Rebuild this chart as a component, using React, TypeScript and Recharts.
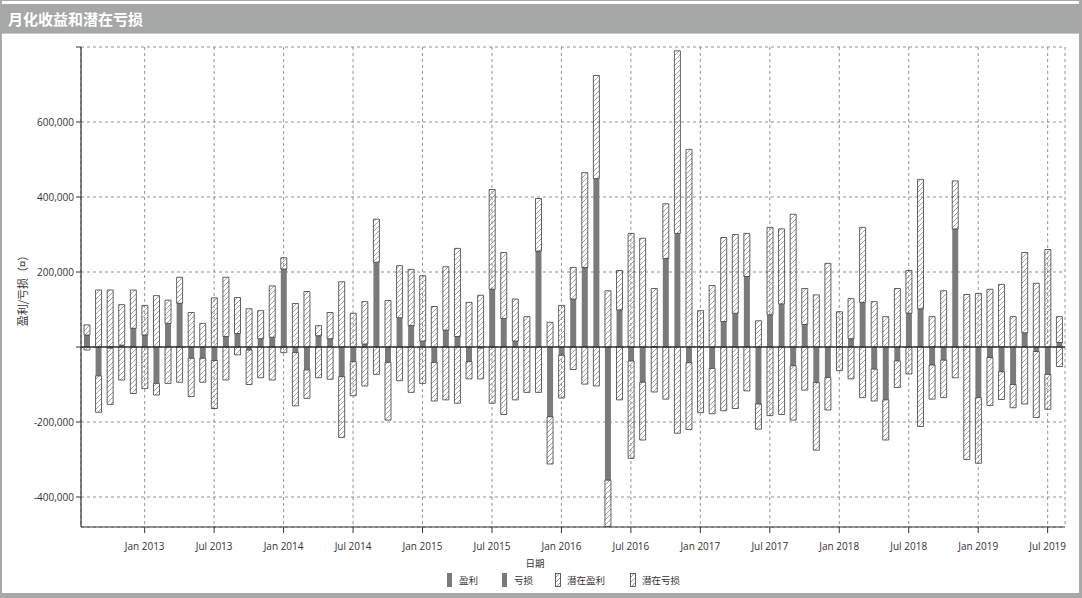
import React from "react";
import {
  BarChart,
  Bar,
  XAxis,
  YAxis,
  CartesianGrid,
  ReferenceLine,
} from "recharts";

const FONT = "'Open Sans', 'Noto Sans CJK SC', sans-serif";
const CJK = "'Noto Sans CJK SC', sans-serif";

// monthly buckets, Aug 2012 .. Aug 2019
const START_YEAR = 2012;
const START_MONTH = 7; // Aug (0-based)
const MONTH_NAMES = ["Jan", "Feb", "Mar", "Apr", "May", "Jun", "Jul", "Aug", "Sep", "Oct", "Nov", "Dec"];

// realized monthly P&L
const REALIZED = [
  32000, -77000, -3000, 5000, 50000, 32000, -97000, 63000, 117000, -30000,
  -30000, -36000, 28000, 36000, -8000, 22000, 26000, 208000, -15000, -61000,
  30000, 22000, -79000, -39000, 8000, 226000, -41000, 78000, 57000, 16000,
  -41000, 45000, 28000, -39000, -3000, 154000, 76000, 16000, 1000, 256000,
  -186000, -22000, 128000, 212000, 449000, -355000, 99000, -37000, -94000, 1000,
  236000, 303000, -42000, 1000, -57000, 68000, 90000, 188000, -152000, 86000,
  115000, -50000, 60000, -95000, -81000, 1000, 22000, 119000, -59000, -141000,
  -37000, 90000, 102000, -48000, -35000, 315000, 2000, -135000, -28000, -66000,
  -100000, 38000, -12000, -73000, 12000,
];

// best point reached during the month
const POTENTIAL_HIGH = [
  59000, 152000, 152000, 113000, 152000, 111000, 137000, 125000, 186000, 92000,
  63000, 131000, 186000, 132000, 102000, 97000, 163000, 238000, 116000, 148000,
  57000, 92000, 174000, 90000, 121000, 341000, 124000, 217000, 207000, 190000,
  108000, 214000, 263000, 119000, 138000, 420000, 252000, 128000, 81000, 396000,
  66000, 111000, 212000, 465000, 724000, 150000, 204000, 303000, 290000, 156000,
  382000, 790000, 527000, 97000, 164000, 292000, 300000, 303000, 70000, 319000,
  315000, 354000, 156000, 139000, 223000, 94000, 129000, 319000, 121000, 81000,
  156000, 204000, 447000, 81000, 150000, 443000, 140000, 143000, 154000, 167000,
  81000, 252000, 170000, 260000, 81000,
];

// worst point reached during the month
const POTENTIAL_LOW = [
  -8000, -174000, -153000, -88000, -124000, -111000, -128000, -97000, -94000, -132000,
  -94000, -164000, -88000, -21000, -100000, -82000, -88000, -15000, -157000, -137000,
  -82000, -86000, -241000, -130000, -104000, -73000, -195000, -90000, -121000, -97000,
  -144000, -141000, -150000, -85000, -85000, -150000, -180000, -141000, -121000, -121000,
  -312000, -136000, -60000, -99000, -104000, -479000, -141000, -297000, -248000, -120000,
  -139000, -230000, -220000, -175000, -178000, -170000, -164000, -117000, -219000, -183000,
  -180000, -195000, -115000, -275000, -168000, -63000, -85000, -135000, -144000, -248000,
  -108000, -72000, -212000, -139000, -135000, -82000, -300000, -310000, -156000, -140000,
  -162000, -152000, -188000, -166000, -52000,
];

const Y_TICKS = [-400000, -200000, 0, 200000, 400000, 600000, 800000];

const MONTHS = REALIZED.map((_, i) => {
  const m = (START_MONTH + i) % 12;
  const y = START_YEAR + Math.floor((START_MONTH + i) / 12);
  return `${MONTH_NAMES[m]} ${y}`;
});

const X_TICKS = MONTHS.filter((m) => m.startsWith("Jan") || m.startsWith("Jul"));

const data = MONTHS.map((month, i) => {
  const r = REALIZED[i];
  const profit = Math.max(r, 0);
  const loss = Math.min(r, 0);
  return {
    month,
    profit,
    loss,
    potProfit: POTENTIAL_HIGH[i] - profit,
    potLoss: POTENTIAL_LOW[i] - loss,
  };
});

const SOLID = "#7a7a7a";
const EDGE = "#3c3c3c";

const LEGEND = [
  { label: "盈利", x: 447, hatched: false },
  { label: "亏损", x: 502, hatched: false },
  { label: "潜在盈利", x: 555, hatched: true },
  { label: "潜在亏损", x: 630, hatched: true },
];

function LegendIcon({ hatched }: { hatched: boolean }) {
  return (
    <svg width={7} height={15} style={{ display: "block" }}>
      <defs>
        <pattern id="hatchIcon" patternUnits="userSpaceOnUse" width={5} height={5}>
          <path d="M0,5 L5,0 M-1,1 L1,-1 M4,6 L6,4" stroke="#888" strokeWidth={0.8} />
        </pattern>
      </defs>
      {hatched ? (
        <rect x={0.5} y={0.5} width={5} height={13} fill="url(#hatchIcon)" stroke={EDGE} strokeWidth={0.8} />
      ) : (
        <rect x={0} y={0} width={5} height={14} fill={SOLID} />
      )}
    </svg>
  );
}

export default function App() {
  return (
    <div style={{ position: "absolute", left: 0, top: 0, width: 1082, height: 598, background: "#fff", overflow: "hidden" }}>
      {/* outer frame */}
      <div
        style={{
          position: "absolute",
          left: 0,
          top: 0,
          width: 1082,
          height: 598,
          boxSizing: "border-box",
          borderLeft: "2px solid #a8a8a8",
          borderRight: "3px solid #a8a8a8",
          borderTop: "1px solid #a8a8a8",
          borderBottom: "5px solid #a8a8a8",
        }}
      />
      {/* title bar */}
      <div
        style={{
          position: "absolute",
          left: 2,
          top: 4,
          width: 1077,
          height: 30,
          background: "#a6a8a8",
          borderBottom: "1px solid #c8c8c8",
          color: "#fff",
          fontFamily: CJK,
          fontWeight: 700,
          fontSize: 15,
          lineHeight: "30px",
          paddingLeft: 6,
          boxSizing: "border-box",
        }}
      >
        月化收益和潜在亏损
      </div>

      <div style={{ position: "absolute", left: 0, top: 0 }}>
        <BarChart
          width={1082}
          height={598}
          data={data}
          stackOffset="sign"
          margin={{ top: 47, right: 17, bottom: 41, left: 41 }}
        >
          <defs>
            <pattern id="hatch" patternUnits="userSpaceOnUse" width={5} height={5}>
              <path d="M0,5 L5,0 M-1,1 L1,-1 M4,6 L6,4" stroke="#8a8a8a" strokeWidth={0.8} />
            </pattern>
          </defs>
          <CartesianGrid stroke="#777" strokeDasharray="3 3" strokeWidth={0.8} />
          <XAxis
            dataKey="month"
            ticks={X_TICKS}
            interval={0}
            height={30}
            tickSize={6}
            tickMargin={10}
            axisLine={{ stroke: "#333", strokeWidth: 1.2 }}
            tickLine={{ stroke: "#333" }}
            tick={{ fontSize: 10, fill: "#333", fontFamily: FONT }}
          />
          <YAxis
            type="number"
            domain={[-480000, 800000]}
            ticks={Y_TICKS}
            interval={0}
            width={40}
            tickSize={5}
            axisLine={{ stroke: "#333", strokeWidth: 1.2 }}
            tickLine={{ stroke: "#333" }}
            tick={{ fontSize: 10, fill: "#333", fontFamily: FONT }}
            tickFormatter={(v: number) => (v === 0 || v === 800000 ? "" : v.toLocaleString("en-US"))}
            allowDataOverflow
          />
          <Bar dataKey="profit" name="盈利" stackId="a" fill={SOLID} barSize={6} isAnimationActive={false} />
          <Bar dataKey="loss" name="亏损" stackId="a" fill={SOLID} barSize={6} isAnimationActive={false} />
          <Bar
            dataKey="potProfit"
            name="潜在盈利"
            stackId="a"
            fill="url(#hatch)"
            stroke={EDGE}
            strokeWidth={0.8}
            barSize={6}
            isAnimationActive={false}
          />
          <Bar
            dataKey="potLoss"
            name="潜在亏损"
            stackId="a"
            fill="url(#hatch)"
            stroke={EDGE}
            strokeWidth={0.8}
            barSize={6}
            isAnimationActive={false}
          />
          <ReferenceLine y={0} stroke="#333" strokeWidth={1.6} />
        </BarChart>
      </div>

      {/* y axis title */}
      <div
        style={{
          position: "absolute",
          left: 22,
          top: 288,
          transform: "translate(-50%, -50%) rotate(-90deg)",
          fontFamily: CJK,
          fontSize: 11,
          color: "#333",
          whiteSpace: "nowrap",
        }}
      >
        盈利/亏损（¤）
      </div>

      {/* x axis title */}
      <div
        style={{
          position: "absolute",
          left: 535,
          top: 563,
          transform: "translate(-50%, -50%)",
          fontFamily: CJK,
          fontSize: 9.5,
          color: "#333",
        }}
      >
        日期
      </div>

      {/* legend */}
      {LEGEND.map((item) => (
        <div
          key={item.label}
          style={{
            position: "absolute",
            left: item.x,
            top: 573,
            display: "flex",
            alignItems: "center",
            gap: 5,
            fontFamily: CJK,
            fontSize: 9.5,
            color: "#333",
            lineHeight: "15px",
          }}
        >
          <LegendIcon hatched={item.hatched} />
          <span>{item.label}</span>
        </div>
      ))}
    </div>
  );
}
